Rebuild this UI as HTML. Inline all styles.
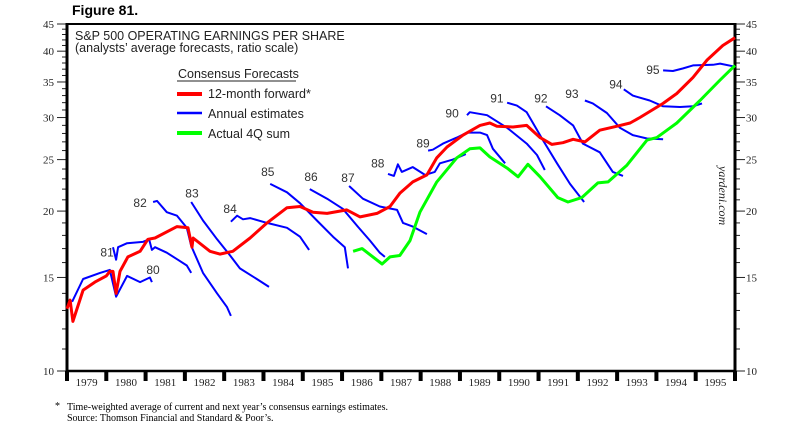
<!DOCTYPE html>
<html><head><meta charset="utf-8"><style>
body{margin:0;background:#fff;}
svg{display:block;}
</style></head><body>
<svg id="chart" width="800" height="437" viewBox="0 0 800 437" xmlns="http://www.w3.org/2000/svg">
<text x="72" y="15" font-family="Liberation Sans, sans-serif" font-weight="bold" font-size="14">Figure 81.</text>
<text x="75" y="40" font-family="Liberation Sans, sans-serif" font-size="12.5" fill="#222">S&amp;P 500 OPERATING EARNINGS PER SHARE</text>
<text x="75" y="52" font-family="Liberation Sans, sans-serif" font-size="12.5" fill="#222">(analysts’ average forecasts, ratio scale)</text>
<g font-family="Liberation Sans, sans-serif" font-size="12.5" fill="#222">
<text x="178" y="78">Consensus Forecasts</text>
<line x1="177" y1="81" x2="296" y2="81" stroke="#222" stroke-width="1"/>
<line x1="177" y1="94" x2="202" y2="94" stroke="#f00" stroke-width="4"/>
<text x="208" y="98">12-month forward*</text>
<line x1="177" y1="113" x2="202" y2="113" stroke="#00f" stroke-width="2.5"/>
<text x="208" y="118">Annual estimates</text>
<line x1="177" y1="133" x2="202" y2="133" stroke="#0f0" stroke-width="4"/>
<text x="208" y="138">Actual 4Q sum</text>
</g>
<text transform="translate(719,166) rotate(90)" font-family="Liberation Serif, serif" font-style="italic" font-size="12" fill="#222">yardeni.com</text>
<text x="55" y="409" font-family="Liberation Serif, serif" font-size="10">*</text>
<text x="67" y="410" font-family="Liberation Serif, serif" font-size="10">Time-weighted average of current and next year’s consensus earnings estimates.</text>
<text x="67" y="421" font-family="Liberation Serif, serif" font-size="10">Source: Thomson Financial and Standard &amp; Poor’s.</text>
</svg>
<script>
const yTicks=[10,15,20,25,30,35,40,45];
const yMinor=[11,12,13,14,16,17,18,19,21,22,23,24,26,27,28,29,31,32,33,34,36,37,38,39,41,42,43,44];
const years=[1979,1980,1981,1982,1983,1984,1985,1986,1987,1988,1989,1990,1991,1992,1993,1994,1995];
const fwdYears=[1979.00,1979.08,1979.15,1979.41,1979.71,1980.00,1980.09,1980.17,1980.25,1980.35,1980.55,1980.86,1981.06,1981.24,1981.80,1982.08,1982.18,1982.21,1982.64,1982.89,1983.22,1983.66,1984.09,1984.60,1984.93,1985.26,1985.62,1986.12,1986.46,1986.89,1987.22,1987.47,1987.80,1988.16,1988.41,1988.67,1989.08,1989.51,1989.76,1989.94,1990.35,1990.70,1991.04,1991.34,1991.62,1991.88,1992.18,1992.56,1993.00,1993.33,1993.58,1994.17,1994.52,1994.93,1995.29,1995.69,1996.00];
const fwdValues=[13.1,13.6,12.4,14.2,14.7,15.1,15.4,15.4,14.0,15.4,16.4,16.8,17.7,17.8,18.7,18.6,17.1,17.8,16.8,16.6,16.8,17.8,19.0,20.3,20.4,19.9,19.8,20.1,19.5,19.8,20.4,21.6,22.7,23.4,25.2,26.4,27.8,29.0,29.3,28.9,28.8,29.0,27.5,26.7,26.9,27.3,27.0,28.4,28.9,29.3,30.0,31.9,33.3,35.7,38.5,41.0,42.4];
const actYears=[1986.28,1986.51,1987.02,1987.22,1987.47,1987.73,1987.98,1988.41,1988.92,1989.25,1989.51,1989.76,1990.20,1990.48,1990.73,1991.04,1991.49,1991.75,1992.10,1992.51,1992.77,1993.25,1993.76,1994.01,1994.52,1995.11,1995.62,1996.00];
const actValues=[16.8,17.0,15.9,16.4,16.5,17.6,19.9,22.7,25.2,26.2,26.3,25.3,24.1,23.2,24.5,23.2,21.2,20.8,21.2,22.6,22.7,24.4,27.2,27.5,29.3,32.3,35.3,37.6];
const estLabels=["80","81","82","83","84","85","86","87","88","89","90","91","92","93","94","95"];
const labelYears=[1981.19,1980.02,1980.86,1982.18,1983.15,1984.11,1985.21,1986.15,1986.91,1988.06,1988.80,1989.94,1991.06,1991.85,1992.97,1993.91];
const labelValues=[15.5,16.7,20.7,21.6,20.2,23.7,23.2,23.1,24.6,26.8,30.5,32.6,32.6,33.2,34.6,36.9];
const estYears=[
[1979.13,1979.41,1979.84,1980.09,1980.25,1980.53,1980.86,1981.11,1981.16],
[1980.17,1980.25,1980.30,1980.53,1980.93,1981.09,1981.16,1981.24,1981.54,1981.82,1982.05,1982.16],
[1981.19,1981.29,1981.54,1981.80,1982.05,1982.16,1982.46,1982.82,1983.07,1983.17],
[1982.16,1982.46,1982.82,1983.15,1983.40,1983.83,1984.14],
[1983.17,1983.33,1983.48,1983.66,1984.09,1984.60,1984.93,1985.16],
[1984.17,1984.60,1984.93,1985.36,1985.77,1986.07,1986.15],
[1985.18,1985.62,1986.02,1986.40,1986.71,1986.96,1987.09],
[1986.18,1986.53,1986.96,1987.40,1987.55,1987.80,1988.16],
[1987.17,1987.32,1987.42,1987.52,1987.80,1988.11,1988.36,1988.49,1988.82,1989.15],
[1988.19,1988.31,1988.57,1988.92,1989.18,1989.51,1989.69,1989.84,1990.15],
[1989.18,1989.25,1989.69,1990.20,1990.70,1990.96,1991.16],
[1990.20,1990.45,1990.70,1991.11,1991.47,1991.80,1992.16],
[1991.19,1991.54,1991.88,1992.13,1992.56,1992.89,1993.15],
[1992.18,1992.38,1992.74,1993.07,1993.40,1993.76,1994.17],
[1993.17,1993.40,1993.83,1994.17,1994.60,1994.93,1995.16],
[1994.17,1994.42,1994.67,1994.93,1995.44,1995.62,1996.00]];
const estValues=[
[13.5,14.9,15.3,15.5,13.8,15.1,14.7,15.0,14.7],
[17.1,16.2,17.1,17.4,17.5,17.7,16.9,17.1,16.7,16.2,15.8,15.3],
[20.8,20.9,19.9,19.6,18.6,17.2,15.3,14.0,13.2,12.7],
[20.8,19.2,17.7,16.5,15.6,14.9,14.4],
[19.1,19.6,19.3,19.4,19.0,18.6,17.9,16.9],
[22.5,21.7,20.7,19.2,17.9,17.1,15.6],
[22.0,21.1,20.2,18.7,17.6,16.7,16.4],
[22.3,21.1,20.4,20.1,19.0,18.7,18.1],
[23.5,23.3,24.5,23.7,24.2,23.4,23.7,24.6,25.0,25.6],
[26.0,26.1,26.8,27.5,28.1,28.1,27.8,26.2,24.6],
[30.3,30.7,30.3,28.7,26.8,25.5,23.9],
[32.0,31.6,30.7,27.2,24.6,22.5,20.8],
[31.5,30.3,29.0,26.8,25.8,23.7,23.3],
[32.3,31.9,30.6,28.7,27.8,27.4,27.3],
[33.9,33.0,32.3,31.5,31.4,31.5,31.9],
[36.8,36.7,37.1,37.6,37.7,37.9,37.4]];
</script>
<script>
(function(){
const NS="http://www.w3.org/2000/svg";
const svg=document.getElementById('chart');
const L=67,R=735,T=24,B=371;
const X=y=>L+(y-1979)/17*(R-L);
const Y=v=>B-(Math.log10(v)-1)/Math.log10(4.5)*(B-T);
function mk(tag,attrs,parent){const e=document.createElementNS(NS,tag);for(const k in attrs)e.setAttribute(k,attrs[k]);(parent||svg).appendChild(e);return e;}
const axes=mk('g',{});


yMinor.forEach(v=>{
  const a=mk('line',{x1:L-5,x2:L,y1:Y(v),y2:Y(v),stroke:'#222','stroke-width':1},axes);
  
  
  const b=mk('line',{x1:R,x2:R+5,y1:Y(v),y2:Y(v),stroke:'#222','stroke-width':1},axes);
  
  
});
yTicks.forEach(v=>{
  mk('line',{x1:L-10,x2:L,y1:Y(v),y2:Y(v),stroke:'#222','stroke-width':1},axes);
  mk('line',{x1:R,x2:R+10,y1:Y(v),y2:Y(v),stroke:'#222','stroke-width':1},axes);
  const t=mk('text',{x:L-13,y:Y(v)+4,'text-anchor':'end','font-family':'Liberation Serif, serif','font-size':11,fill:'#222'},axes);
  t.textContent=v;
  
  
  const t2=mk('text',{x:R+11,y:Y(v)+4,'font-family':'Liberation Serif, serif','font-size':11,fill:'#222'},axes);
  t2.textContent=v;
  
  
});
years.forEach(yr=>{
  const t=mk('text',{x:X(yr+0.5),y:386,'text-anchor':'middle','font-family':'Liberation Serif, serif','font-size':11,fill:'#222'},axes);
  t.textContent=yr;
  
  
});
years.concat([1996]).forEach(yr=>{
  mk('rect',{x:X(yr)-2,y:B,width:4,height:10,fill:'#000'},axes);
});
mk('line',{x1:L,x2:R,y1:T,y2:T,stroke:'#000','stroke-width':2},axes);
mk('line',{x1:L,x2:R,y1:B,y2:B,stroke:'#000','stroke-width':2.5},axes);
mk('line',{x1:L,x2:L,y1:T-1,y2:B+1,stroke:'#000','stroke-width':3},axes);
mk('line',{x1:R,x2:R,y1:T-1,y2:B+1,stroke:'#000','stroke-width':3},axes);
function path(xs,vs){return xs.map((x,i)=>(i?'L':'M')+X(Math.min(x,1996)).toFixed(1)+','+Y(vs[i]).toFixed(1)).join('');}
const est=mk('g',{});


estYears.forEach((xs,i)=>{
  const p=mk('path',{d:path(xs,estValues[i]),fill:'none',stroke:'#00f','stroke-width':2,'stroke-linejoin':'round'},est);
  
  
  const t=mk('text',{x:X(labelYears[i]),y:Y(labelValues[i])+4,'text-anchor':'middle','font-family':'Liberation Sans, sans-serif','font-size':12,fill:'#333'},est);
  t.textContent=estLabels[i];
  
  
});
const act=mk('path',{d:path(actYears,actValues),fill:'none',stroke:'#0f0','stroke-width':3,'stroke-linejoin':'round'});


const fwd=mk('path',{d:path(fwdYears,fwdValues),fill:'none',stroke:'#f00','stroke-width':3,'stroke-linejoin':'round'});


})();
</script>
</body></html>
